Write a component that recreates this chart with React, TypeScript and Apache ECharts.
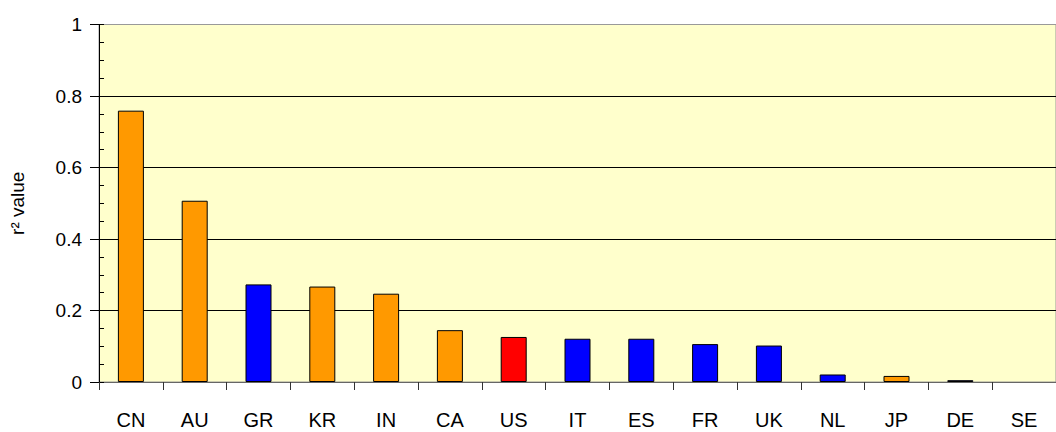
import React, { useEffect, useRef } from "react";
import * as echarts from "echarts";

const categories = ["CN", "AU", "GR", "KR", "IN", "CA", "US", "IT", "ES", "FR", "UK", "NL", "JP", "DE", "SE"];
const values = [0.759, 0.507, 0.273, 0.267, 0.247, 0.145, 0.126, 0.121, 0.121, 0.106, 0.102, 0.021, 0.017, 0.005, 0];
const groups = ["o", "o", "b", "o", "o", "o", "r", "b", "b", "b", "b", "b", "o", "b", "b"];
const groupColors: Record<string, string> = { o: "#FF9900", b: "#0000FF", r: "#FF0000" };
const yTicks = [0, 0.2, 0.4, 0.6, 0.8, 1];

export default function App() {
  const ref = useRef<HTMLDivElement>(null);
  useEffect(() => {
    document.body.style.margin = "0";
    document.body.style.overflow = "hidden";
    const chart = echarts.init(ref.current!, null, { renderer: "svg" });
    const font = "'Liberation Sans', Arial, sans-serif";
    chart.setOption({
      animation: false,
      grid: {
        left: 97,
        top: 24.5,
        bottom: 50,
        right: -6,
        show: true,
        backgroundColor: "#FFFFCC",
        borderColor: "#999999",
        borderWidth: 1,
      },
      xAxis: {
        type: "category",
        data: categories,
        boundaryGap: true,
        axisLine: { lineStyle: { color: "#666666", width: 1 } },
        axisTick: { show: true, length: 8, lineStyle: { color: "#333333" } },
        axisLabel: { color: "#000", fontFamily: font, fontSize: 20, margin: 28, interval: 0 },
        splitLine: { show: false },
      },
      yAxis: [
        {
          type: "value",
          min: yTicks[0],
          max: yTicks[yTicks.length - 1],
          interval: 0.2,
          name: "r\u00B2 value",
          nameLocation: "middle",
          nameGap: 72,
          nameTextStyle: { color: "#000", fontFamily: font, fontSize: 19 },
          axisLine: { show: true, lineStyle: { color: "#000", width: 1 } },
          axisTick: { show: true, inside: false, length: 9, lineStyle: { color: "#000" } },
          axisLabel: {
            color: "#000",
            fontFamily: font,
            fontSize: 19,
            margin: 17,
            formatter: (v: number) => String(Math.round(v * 10) / 10),
          },
          splitLine: { show: true, showMaxLine: false, lineStyle: { color: "#000", width: 1 } },
        },
        {
          type: "value",
          position: "left",
          min: 0,
          max: 1,
          interval: 0.05,
          axisLine: { show: false },
          axisTick: { show: true, inside: true, length: 5, lineStyle: { color: "#000" } },
          axisLabel: { show: false },
          splitLine: { show: false },
        },
      ],
      series: [
        {
          type: "bar",
          yAxisIndex: 0,
          barWidth: 26,
          data: values.map((v, i) => ({
            value: v,
            itemStyle: {
              color: groupColors[groups[i]],
              borderColor: "#000",
              borderWidth: v > 0 ? 1 : 0,
            },
          })),
        },
      ],
    });
    return () => chart.dispose();
  }, []);
  return <div ref={ref} style={{ width: 1056, height: 432 }} />;
}
